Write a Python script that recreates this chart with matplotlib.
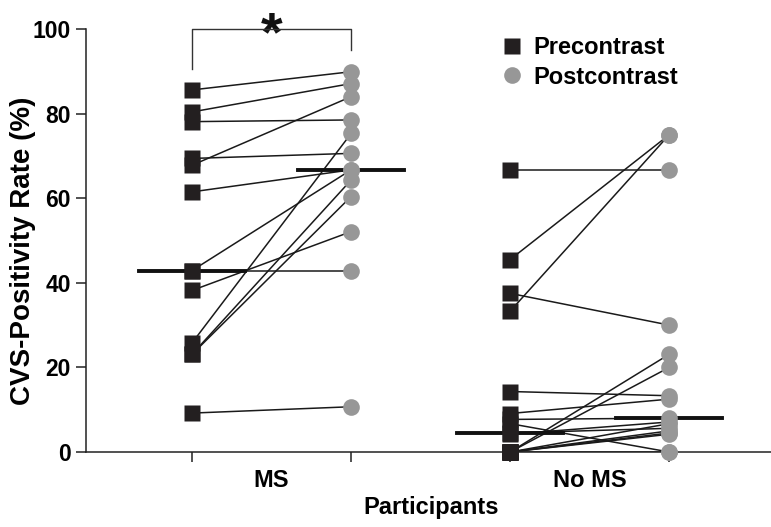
import matplotlib
matplotlib.use("Agg")
import matplotlib.pyplot as plt
from matplotlib.lines import Line2D
import numpy as np

plt.rcParams['font.family'] = ['Liberation Sans', 'DejaVu Sans']
plt.rcParams['font.weight'] = 'bold'

# ---- data ----
groups = ["MS", "No MS"]
ms_pre = [85.6, 80.4, 78.1, 69.4, 67.8, 61.5, 42.9, 42.9, 38.2, 25.8, 23.1, 23.1, 9.2]
ms_post = [89.9, 87.1, 78.5, 70.6, 84.0, 66.7, 42.9, 66.7, 52.1, 75.3, 64.3, 60.4, 10.7]
noms_pre = [66.7, 45.5, 33.3, 37.5, 14.3, 9.1, 7.7, 6.7, 4.5, 4.2, 0, 0, 0, 0, 0, 0, 0]
noms_post = [66.7, 75.0, 75.0, 30.0, 13.3, 12.5, 8.0, 0, 5.6, 7.1, 23.1, 20.0, 6.7, 5.0, 4.5, 4.2, 0]
yticks = [0, 20, 40, 60, 80, 100]
legend_labels = ["Precontrast", "Postcontrast"]
ylabel = "CVS-Positivity Rate (%)"
xlabel = "Participants"

sq_color = '#231f20'
ci_color = '#979797'
line_color = '#1a1a1a'

fig = plt.figure(figsize=(7.71, 5.27), dpi=100)
ax = fig.add_axes([86/771, 75/527, 685/771, 423/527])

positions = [(0, 1), (2, 3)]
data = [(ms_pre, ms_post), (noms_pre, noms_post)]
half = 0.335

for (xp, xq), (pre, post) in zip(positions, data):
    for a, b in zip(pre, post):
        ax.plot([xp, xq], [a, b], color=line_color, lw=1.1, zorder=2, solid_capstyle='butt')
    ax.plot([xp - half, xp + half], [np.median(pre)] * 2, color='#111111', lw=2.8, zorder=3)
    ax.plot([xq - half, xq + half], [np.median(post)] * 2, color='#111111', lw=2.8, zorder=3)
    ax.plot([xp] * len(pre), pre, 's', ms=12, color=sq_color, mec='none', zorder=4, clip_on=False)
    ax.plot([xq] * len(post), post, 'o', ms=12, color=ci_color, mec='none', zorder=4, clip_on=False)

# significance bracket
ax.plot([0, 0, 1, 1], [90.5, 100, 100, 95], color='#333333', lw=1.0, clip_on=False, zorder=5)
ax.text(0.5, 95.0, '*', ha='center', va='baseline', fontsize=40, fontweight='bold',
        color='#111111', clip_on=False)

ax.set_xlim(-0.667, 3.64)
ax.set_ylim(0, 100)
ax.spines['top'].set_visible(False)
ax.spines['right'].set_visible(False)
for s in ['left', 'bottom']:
    ax.spines[s].set_linewidth(1.1)
    ax.spines[s].set_color('#222222')

ax.set_yticks(yticks)
ax.set_yticklabels([str(t) for t in yticks], fontsize=16.5, fontweight='bold')
ax.tick_params(axis='y', length=7, width=1.1, pad=4, color='#222222')

ax.set_xticks([0, 1, 2, 3])
ax.set_xticklabels([])
ax.tick_params(axis='x', which='major', length=7, width=1.1, color='#222222')
ax.set_xticks([0.5, 2.5], minor=True)
ax.set_xticklabels(groups, minor=True, fontsize=17, fontweight='bold')
ax.tick_params(axis='x', which='minor', length=0, pad=12)

ax.set_ylabel(ylabel, fontsize=20, fontweight='bold')
ax.yaxis.set_label_coords(-0.073, 0.475)
ax.set_xlabel(xlabel, fontsize=17, fontweight='bold')
ax.xaxis.set_label_coords((431 - 86) / 685, -0.105)

handles = [Line2D([], [], marker='s', ls='none', ms=12, color=sq_color, mec='none'),
           Line2D([], [], marker='o', ls='none', ms=12, color=ci_color, mec='none')]
ax.legend(handles, legend_labels, loc='upper left', bbox_to_anchor=(500/771, 1 - 36/527),
          bbox_transform=fig.transFigure, frameon=False, handlelength=1.0,
          handletextpad=0.4, labelspacing=0.28, borderpad=0, borderaxespad=0,
          prop={'weight': 'bold', 'size': 17})

fig.savefig('out.png', dpi=100)
